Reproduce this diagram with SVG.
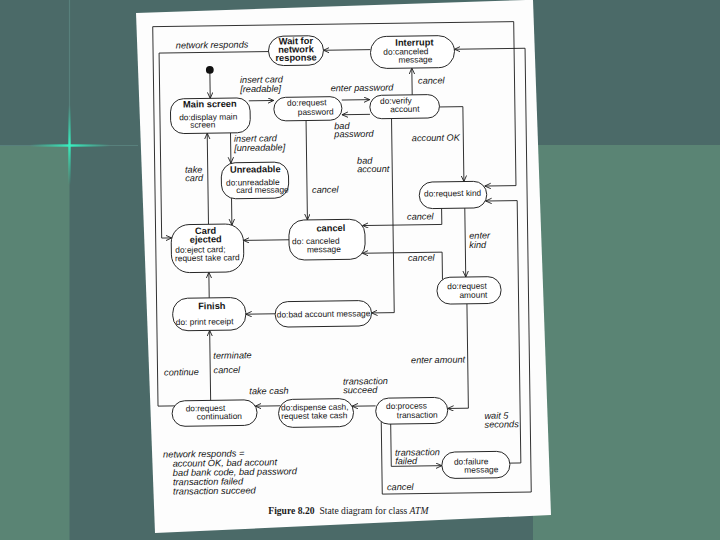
<svg xmlns="http://www.w3.org/2000/svg" width="720" height="540" viewBox="0 0 720 540">
<style>
.st{fill:#fff;stroke:#1c1c1c;stroke-width:0.95}
.ln{fill:none;stroke:#1c1c1c;stroke-width:0.9;marker-end:url(#ah)}
.lb{font-family:"Liberation Sans",Arial,sans-serif;font-style:italic;font-size:9.2px;fill:#151515}
.t{font-family:"Liberation Sans",Arial,sans-serif;font-size:8.4px;fill:#151515}
.b{font-family:"Liberation Sans",Arial,sans-serif;font-size:9.3px;font-weight:bold;fill:#151515;text-anchor:middle}
.nt{font-family:"Liberation Sans",Arial,sans-serif;font-style:italic;font-size:9.3px;fill:#151515}
.cap{font-family:"Liberation Serif","Times New Roman",serif;font-size:9.6px;fill:#1a1a1a}
</style>
<defs>
<marker id="ah" markerWidth="8" markerHeight="8" refX="6" refY="3" orient="auto" markerUnits="userSpaceOnUse">
<path d="M0,0.3 L6,3 L0,5.7" fill="none" stroke="#1c1c1c" stroke-width="0.9"/>
</marker>
<linearGradient id="gv" x1="0" y1="0" x2="0" y2="1">
<stop offset="0" stop-color="#30e0b0" stop-opacity="0"/>
<stop offset="0.5" stop-color="#38f0c0" stop-opacity="1"/>
<stop offset="1" stop-color="#30e0b0" stop-opacity="0"/>
</linearGradient>
<linearGradient id="gh" x1="0" y1="0" x2="1" y2="0">
<stop offset="0" stop-color="#30e0b0" stop-opacity="0"/>
<stop offset="0.5" stop-color="#38f0c0" stop-opacity="1"/>
<stop offset="1" stop-color="#30e0b0" stop-opacity="0"/>
</linearGradient>
</defs>

<g id="background">
<rect x="0" y="0" width="720" height="540" fill="#4b6a68"/>
<rect x="0" y="145" width="69.5" height="395" fill="#5a8474"/>
<rect x="533" y="145" width="187" height="395" fill="#5a8474"/>
<line x1="69.5" y1="0" x2="69.5" y2="145" stroke="#58807c" stroke-width="1.2"/>
<line x1="0" y1="145.5" x2="138" y2="145.5" stroke="#58807c" stroke-width="1.2"/>
<rect x="68.3" y="105" width="2.4" height="80" fill="url(#gv)"/>
<rect x="30" y="144.3" width="80" height="2.4" fill="url(#gh)"/>
</g>

<polygon id="page" points="136,13 526,0 533,0 551,515 155,533" fill="#fdfdfd"/>

<g id="diagram" transform="rotate(-0.8 345 260)">
<g id="connectors">
<path class="ln" d="M212.5,70 V96.5"/>
<path class="ln" d="M251,99.5 H276"/>
<path class="ln" d="M344,100 H372"/>
<path class="ln" d="M372,114.7 H344"/>
<path class="ln" d="M414.5,95.8 V69"/>
<path class="ln" d="M373.4,50 H326.4"/>
<path class="ln" d="M271.4,50.5 H162 V235.5 H172"/>
<path class="ln" d="M441.6,108.3 H465 V183.2"/>
<path class="ln" d="M393.5,119.2 V313.3 H370.8"/>
<path class="ln" d="M308,120 V219.4"/>
<path class="ln" d="M232.3,131.3 V161.6"/>
<path class="ln" d="M209,222.4 V131.3"/>
<path class="ln" d="M232.4,196.3 V223.5"/>
<path class="ln" d="M289.3,239 H243.7"/>
<path class="ln" d="M442.3,209.8 V225.8 H363"/>
<path class="ln" d="M442.2,281 V253.5 H362.5"/>
<path class="ln" d="M465.5,209.8 V278.7"/>
<path class="ln" d="M466.3,305.5 V409.9 H445.6"/>
<path class="ln" d="M373.6,406.3 H350"/>
<path class="ln" d="M278.4,404.9 H253.3"/>
<path class="ln" d="M208.7,398.5 V328.5"/>
<path class="ln" d="M208.7,296 V270.4"/>
<path class="ln" d="M274.4,312.8 H245"/>
<path class="ln" d="M172.8,403.5 H156 V24 H517 V188 H485.8"/>
<path class="ln" d="M379,422.5 V494.6 H528 V50.8 H457.4"/>
<path class="ln" d="M388.4,424.7 V467 H439"/>
<path class="ln" d="M507,465.4 H518 V203 H486.5"/>

<text class="lb" x="178.8" y="46.2">network responds</text>
<text class="lb" x="242.5" y="81.5">insert card</text>
<text class="lb" x="242.6" y="90.8">[readable]</text>
<text class="lb" x="333" y="91.2">enter password</text>
<text class="lb" x="420.5" y="84.9">cancel</text>
<text class="lb" x="336" y="129">bad</text>
<text class="lb" x="336" y="137.2">password</text>
<text class="lb" x="413.5" y="142.2">account OK</text>
<text class="lb" x="235.7" y="140.3">insert card</text>
<text class="lb" x="235.7" y="149.6">[unreadable]</text>
<text class="lb" x="358.4" y="164">bad</text>
<text class="lb" x="358.4" y="172.5">account</text>
<text class="lb" x="186.3" y="170.6">take</text>
<text class="lb" x="186.3" y="179">card</text>
<text class="lb" x="313" y="192.5">cancel</text>
<text class="lb" x="407.6" y="220.7">cancel</text>
<text class="lb" x="469.5" y="240.5">enter</text>
<text class="lb" x="469.5" y="249.8">kind</text>
<text class="lb" x="408" y="261.9">cancel</text>
<text class="lb" x="409.6" y="364.2">enter amount</text>
<text class="lb" x="212" y="356.9">terminate</text>
<text class="lb" x="212" y="371.4">cancel</text>
<text class="lb" x="162.5" y="373">continue</text>
<text class="lb" x="247.5" y="393">take cash</text>
<text class="lb" x="341.3" y="384.6">transaction</text>
<text class="lb" x="341.3" y="393.3">succeed</text>
<text class="lb" x="482.2" y="420.9">wait 5</text>
<text class="lb" x="482.2" y="429.6">seconds</text>
<text class="lb" x="392.3" y="456.4">transaction</text>
<text class="lb" x="392.3" y="465">failed</text>
<text class="lb" x="383.8" y="490.8">cancel</text>
</g>

<g id="initial"><circle cx="212.5" cy="68" r="3.9" fill="#111"/></g>

<g id="wait-for-network-response">
<rect class="st" x="271.4" y="35.3" width="55" height="29.4" rx="14.7"/>
<text class="b" x="298.9" y="43.5">Wait for</text>
<text class="b" x="298.9" y="51.8">network</text>
<text class="b" x="298.9" y="60.1">response</text>
</g>

<g id="interrupt">
<rect class="st" x="373.4" y="37" width="84" height="32" rx="16"/>
<text class="b" x="417.4" y="46.6">Interrupt</text>
<text class="t" x="386.2" y="55.3">do:canceled</text>
<text class="t" x="401.2" y="63.4">message</text>
</g>

<g id="main-screen">
<rect class="st" x="172.6" y="96.5" width="79.6" height="34.8" rx="13"/>
<text class="b" x="212" y="105.3">Main screen</text>
<text class="t" x="181.1" y="118">do:display main</text>
<text class="t" x="192.1" y="125.6">screen</text>
</g>

<g id="request-password">
<rect class="st" x="276" y="96.5" width="68" height="23.5" rx="11.7"/>
<text class="t" x="289.2" y="105">do:request</text>
<text class="t" x="299.8" y="114.4">password</text>
</g>

<g id="verify-account">
<rect class="st" x="372" y="95.8" width="69.6" height="23.4" rx="11.7"/>
<text class="t" x="382.2" y="104.4">do:verify</text>
<text class="t" x="392.2" y="112.8">account</text>
</g>

<g id="unreadable">
<rect class="st" x="222.5" y="161.2" width="67.2" height="36" rx="14"/>
<text class="b" x="256.5" y="171.2">Unreadable</text>
<text class="t" x="227.1" y="184">do:unreadable</text>
<text class="t" x="237.1" y="191.6">card message</text>
</g>

<g id="card-ejected">
<rect class="st" x="171.5" y="222.4" width="72.3" height="48" rx="18"/>
<text class="b" x="206" y="231.9">Card</text>
<text class="b" x="206" y="240.5">ejected</text>
<text class="t" x="175.4" y="250.5">do:eject card;</text>
<text class="t" x="175" y="258.8">request take card</text>
</g>

<g id="cancel">
<rect class="st" x="289.3" y="219.4" width="76" height="40" rx="15"/>
<text class="b" x="331.3" y="231">cancel</text>
<text class="t" x="292.3" y="243.5">do: canceled</text>
<text class="t" x="307" y="251.9">message</text>
</g>

<g id="request-kind">
<rect class="st" x="420.2" y="183.2" width="67.4" height="26.6" rx="13"/>
<text class="t" x="424.9" y="197.7">do:request kind</text>
</g>

<g id="request-amount">
<rect class="st" x="436.6" y="278.7" width="64" height="26.8" rx="13"/>
<text class="t" x="446.9" y="290.6">do:request</text>
<text class="t" x="458.9" y="299.6">amount</text>
</g>

<g id="finish">
<rect class="st" x="172" y="296" width="73" height="32.5" rx="15"/>
<text class="b" x="211.2" y="307.3">Finish</text>
<text class="t" x="174.9" y="322.7">do: print receipt</text>
</g>

<g id="bad-account-message">
<rect class="st" x="274.4" y="300.8" width="96.4" height="25.4" rx="12.7"/>
<text class="t" x="276" y="316.6">do:bad account message</text>
</g>

<g id="request-continuation">
<rect class="st" x="170" y="398.5" width="84.9" height="25.5" rx="12.7"/>
<text class="t" x="183.6" y="409.2">do:request</text>
<text class="t" x="194.6" y="417.4">continuation</text>
</g>

<g id="dispense-cash">
<rect class="st" x="276.4" y="398.6" width="75" height="28" rx="14"/>
<text class="t" x="279" y="409.7">do:dispense cash,</text>
<text class="t" x="279" y="418.1">request take cash</text>
</g>

<g id="process-transaction">
<rect class="st" x="373.6" y="398.7" width="72" height="26" rx="13"/>
<text class="t" x="383.9" y="409.6">do:process</text>
<text class="t" x="394.6" y="418.9">transaction</text>
</g>

<g id="failure-message">
<rect class="st" x="439" y="453.5" width="68" height="26.4" rx="13"/>
<text class="t" x="451.1" y="466.2">do:failure</text>
<text class="t" x="461.4" y="474.4">message</text>
</g>

<g id="notes">
<text class="nt" x="160.3" y="455">network responds =</text>
<text class="nt" x="169.8" y="464.3">account OK, bad account</text>
<text class="nt" x="169.8" y="473.6">bad bank code, bad password</text>
<text class="nt" x="169.8" y="482.9">transaction failed</text>
<text class="nt" x="169.8" y="492.2">transaction succeed</text>
</g>
</g>

<text id="caption" class="cap" x="268.3" y="514"><tspan font-weight="bold">Figure 8.20</tspan><tspan dx="5">State diagram for class </tspan><tspan font-style="italic">ATM</tspan></text>
</svg>
